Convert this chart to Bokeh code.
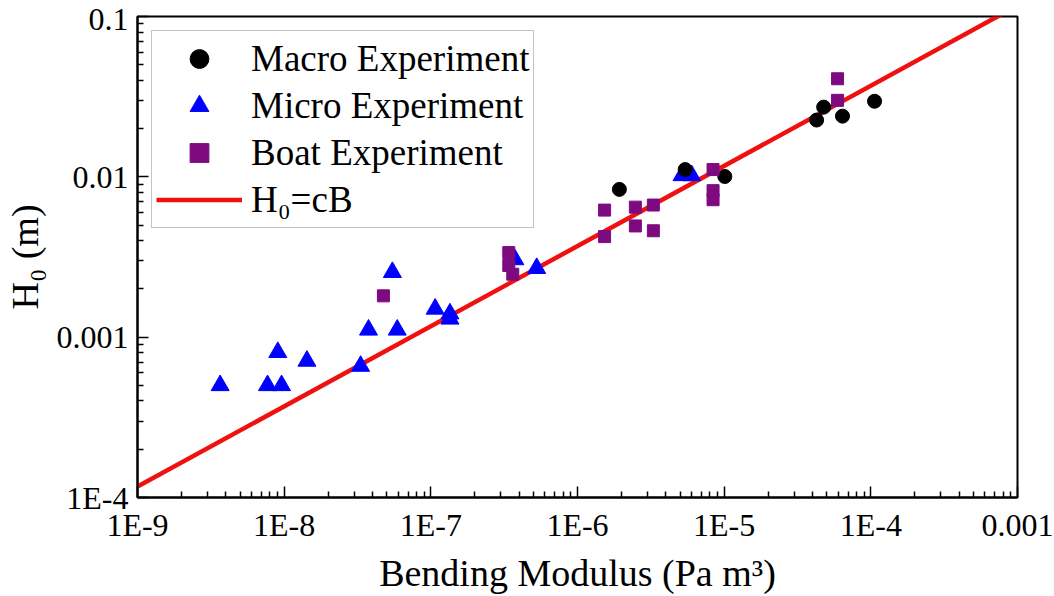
from bokeh.plotting import figure
from bokeh.models import Range1d, FixedTicker, Legend, LegendItem, Label
from bokeh.embed import file_html
from bokeh.resources import INLINE

# Macro experiment (black circles)
macro_B = [1.93e-6, 5.42e-6, 1.01e-5, 4.27e-5, 4.77e-5, 6.41e-5, 1.06e-4]
macro_H = [8.35e-3, 1.11e-2, 1.005e-2, 2.26e-2, 2.72e-2, 2.39e-2, 2.96e-2]

# Micro experiment (blue triangles)
micro_B = [3.66e-9, 7.7e-9, 9.6e-9, 9.05e-9, 1.43e-8, 3.32e-8, 3.76e-8, 5.9e-8,
           5.47e-8, 1.07e-7, 1.35e-7, 1.35e-7, 3.74e-7, 5.27e-7, 5.16e-6, 6.0e-6]
micro_H = [5.0e-4, 5.0e-4, 5.0e-4, 8.05e-4, 7.1e-4, 6.6e-4, 1.11e-3, 1.11e-3,
           2.54e-3, 1.5e-3, 1.4e-3, 1.3e-3, 3.05e-3, 2.69e-3, 1.02e-2, 1.02e-2]

# Boat experiment (purple squares)
boat_B = [4.75e-8, 3.4e-7, 3.4e-7, 3.62e-7, 1.53e-6, 1.53e-6, 2.48e-6, 2.48e-6,
          3.29e-6, 3.29e-6, 8.4e-6, 8.4e-6, 8.4e-6, 5.93e-5, 5.93e-5]
boat_H = [1.81e-3, 3.37e-3, 2.8e-3, 2.47e-3, 6.2e-3, 4.24e-3, 6.47e-3, 4.94e-3,
          6.67e-3, 4.61e-3, 1.11e-2, 8.2e-3, 7.2e-3, 4.09e-2, 3.0e-2]

# Scaling law H0 = c * B^0.5
fit_c = 3.7
fit_exp = 0.5
fit_B = [1e-9, 1e-3]
fit_H = [fit_c * b ** fit_exp for b in fit_B]

x_ticks = [1e-9, 1e-8, 1e-7, 1e-6, 1e-5, 1e-4, 1e-3]
x_tick_labels = ["1E-9", "1E-8", "1E-7", "1E-6", "1E-5", "1E-4", "0.001"]
y_ticks = [1e-4, 1e-3, 1e-2, 1e-1]
y_tick_labels = ["1E-4", "0.001", "0.01", "0.1"]

SERIF = "Liberation Serif"


def minor_ticks(majors):
    out = []
    for m in majors[:-1]:
        out += [m * k for k in range(2, 10)]
    return out


def js_number(v):
    # the way JavaScript prints a number, e.g. 1e-9 or 0.0001
    s = repr(v)
    if "e-0" in s:
        s = s.replace("e-0", "e-")
    return s


def overrides(vals, labs):
    d = {}
    for v, lab in zip(vals, labs):
        d[v] = lab
        d[js_number(v)] = lab
    return d


p = figure(width=1054, height=596, x_axis_type="log", y_axis_type="log",
           x_range=Range1d(1e-9, 1e-3), y_range=Range1d(1e-4, 1e-1),
           output_backend="svg", toolbar_location=None,
           min_border_left=133, min_border_right=37,
           min_border_top=16, min_border_bottom=93)
p.grid.visible = False
p.outline_line_color = "black"
p.outline_line_width = 2
p.outline_line_alpha = 1.0
p.background_fill_color = "white"
p.border_fill_color = "white"


def style_axis(ax, ticks, labels):
    ax.ticker = FixedTicker(ticks=ticks, minor_ticks=minor_ticks(ticks))
    ax.major_label_overrides = overrides(ticks, labels)
    ax.axis_line_width = 2
    ax.axis_line_color = "black"
    ax.major_tick_in = 11
    ax.major_tick_out = 0
    ax.minor_tick_in = 6
    ax.minor_tick_out = 0
    ax.major_tick_line_width = 1.5
    ax.minor_tick_line_width = 1.5
    ax.major_tick_line_color = "black"
    ax.minor_tick_line_color = "black"
    ax.major_label_text_font = SERIF
    ax.major_label_text_font_size = "32px"
    ax.major_label_text_color = "black"
    ax.major_label_standoff = 9
    ax.axis_label_text_font = SERIF
    ax.axis_label_text_font_style = "normal"
    ax.axis_label_text_font_size = "38px"
    ax.axis_label_text_color = "black"


xa = p.xaxis[0]
style_axis(xa, x_ticks, x_tick_labels)
xa.axis_label = "Bending Modulus (Pa m³)"
xa.axis_label_standoff = 6

ya = p.yaxis[0]
style_axis(ya, y_ticks, y_tick_labels)
ya.axis_label = "H₀ (m)"
ya.axis_label_standoff = 8

fit_r = p.line(fit_B, fit_H, line_color="#F01010", line_width=4.5)
micro_r = p.scatter(micro_B, micro_H, marker="triangle", size=18,
                    fill_color="#0000FF", line_color="#0000FF")
macro_r = p.scatter(macro_B, macro_H, marker="circle", size=14,
                    fill_color="black", line_color="black")
boat_r = p.scatter(boat_B, boat_H, marker="square", size=12,
                   fill_color="#7E0A80", line_color="#7E0A80")

legend = Legend(items=[
    LegendItem(label="Macro Experiment", renderers=[macro_r]),
    LegendItem(label="Micro Experiment", renderers=[micro_r]),
    LegendItem(label="Boat Experiment", renderers=[boat_r]),
    LegendItem(label="H₀=cB", renderers=[fit_r]),
], location="top_left")
legend.margin = 14
legend.padding = 4
legend.spacing = 0
legend.glyph_width = 86
legend.glyph_height = 47
legend.label_height = 47
legend.label_standoff = 9
legend.label_text_font = SERIF
legend.label_text_font_size = "37px"
legend.label_text_color = "black"
legend.border_line_color = "#8a8a8a"
legend.border_line_width = 1.5
legend.background_fill_alpha = 1.0
p.add_layout(legend, "center")

# exponent of the scaling-law legend entry
exp_label = Label(x=216, y=298, x_units="screen", y_units="screen",
                  text="0.5", text_font=SERIF, text_font_size="25px",
                  text_color="black", level="overlay")
p.add_layout(exp_label)

open("out.html", "w").write(file_html(p, INLINE))
